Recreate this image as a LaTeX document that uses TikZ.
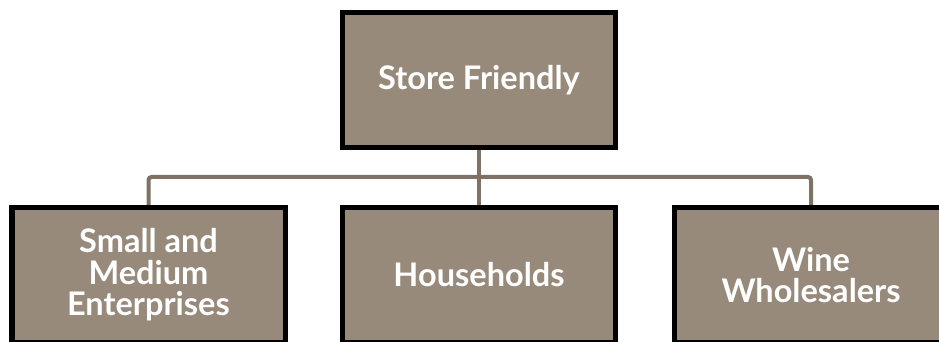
\documentclass[tikz,border=0pt]{standalone}
\usepackage{fontspec}
\setmainfont{Lato}
\usepackage{tikz}
\usetikzlibrary{positioning}
\definecolor{Taupe}{HTML}{978A7B}
\definecolor{Wire}{HTML}{7E7265}

\begin{document}
\begin{tikzpicture}[font=\fontsize{18.5}{18}\selectfont\bfseries,
    box/.style={draw=black,line width=.1cm,fill=Taupe,text=white,align=center,
      minimum width=5.46cm,minimum height=2.7cm,inner sep=0pt},
    link/.style={draw=Wire,line width=.08cm,rounded corners=.06cm}]
        \useasboundingbox (0,0) rectangle (18.78,6.84);
        \clip (0,0) rectangle (18.78,6.84);
        \node[box] (top) at (9.58,5.24) {Store Friendly};
        \foreach \x/\name/\txt in {2.97/sme/{Small and\\Medium\\Enterprises},9.58/home/Households,16.22/wine/{Wine\\Wholesalers}}{
          \node[box] (\name) at (\x,1.34) {\txt};}
        % tree lines
        \coordinate (bus) at (9.58,3.3);
        \draw[link] (top.south) -- (bus);
        \draw[link] (sme.north) |- (bus) -| (wine.north);
        \draw[link] (bus) -- (home.north);
      \end{tikzpicture}
\end{document}
